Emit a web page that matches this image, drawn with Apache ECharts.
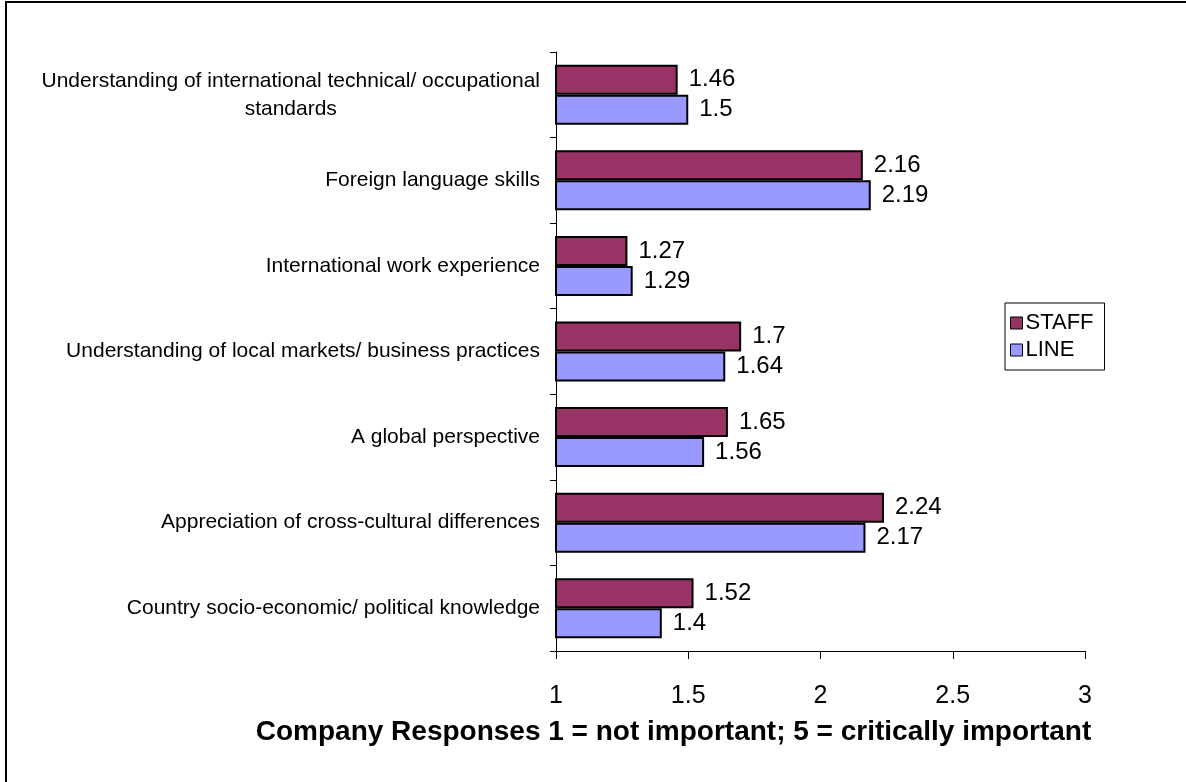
<!DOCTYPE html>
<html>
<head>
<meta charset="utf-8">
<script src="https://cdn.jsdelivr.net/npm/echarts@6/dist/echarts.min.js"></script>
<style>
  html, body { margin: 0; padding: 0; background: #fff; }
  #chart { width: 1186px; height: 782px; }
</style>
</head>
<body>
<div id="chart"></div>
<script>
// Skill categories, top to bottom
const categories = [
  'Understanding of international technical/ occupational\nstandards',
  'Foreign language skills',
  'International work experience',
  'Understanding of local markets/ business practices',
  'A global perspective',
  'Appreciation of cross-cultural differences',
  'Country socio-economic/ political knowledge'
];
const staffValues = [1.46, 2.16, 1.27, 1.7, 1.65, 2.24, 1.52];
const lineValues  = [1.5, 2.19, 1.29, 1.64, 1.56, 2.17, 1.4];
const xTicks = [1, 1.5, 2, 2.5, 3];
const xAxisTitle = 'Company Responses 1 = not important; 5 = critically important';

const FONT = 'Liberation Sans, Arial, sans-serif';

const chart = echarts.init(document.getElementById('chart'), null, { renderer: 'canvas' });

const valueLabel = {
  show: true,
  position: 'right',
  distance: 11,
  color: '#000',
  fontFamily: FONT,
  fontSize: 24
};

chart.setOption({
  animation: false,
  backgroundColor: '#fff',
  // outer frame of the chart area
  graphic: [{
    type: 'rect',
    shape: { x: 6, y: 2, width: 1300, height: 900 },
    style: { fill: 'none', stroke: '#000', lineWidth: 2 },
    silent: true
  }],
  legend: {
    orient: 'vertical',
    left: 1005,
    top: 303,
    padding: [9, 11, 9, 5],
    itemGap: 5,
    itemWidth: 12,
    itemHeight: 12,
    itemStyle: { borderColor: '#000', borderWidth: 1 },
    icon: 'rect',
    borderColor: '#000',
    borderWidth: 1,
    textStyle: { color: '#000', fontFamily: FONT, fontSize: 22, padding: [0, 0, 0, -2] },
    data: ['STAFF', 'LINE']
  },
  grid: { left: 556, right: 101, top: 52, bottom: 131, containLabel: false },
  xAxis: {
    type: 'value',
    min: xTicks[0],
    max: xTicks[xTicks.length - 1],
    interval: xTicks[1] - xTicks[0],
    axisLine: { show: true, lineStyle: { color: '#000', width: 1 } },
    axisTick: { show: true, length: 8, lineStyle: { color: '#000' } },
    splitLine: { show: false },
    axisLabel: { color: '#000', fontFamily: FONT, fontSize: 25, margin: 33 },
    name: xAxisTitle,
    nameLocation: 'middle',
    nameGap: 67,
    nameTextStyle: { color: '#000', fontFamily: FONT, fontSize: 28, fontWeight: 'bold', padding: [0, 294, 0, 0] }
  },
  yAxis: {
    type: 'category',
    inverse: true,
    data: categories,
    axisLine: { show: true, lineStyle: { color: '#000', width: 1 } },
    axisTick: { show: true, length: 6, lineStyle: { color: '#000' } },
    axisLabel: {
      color: '#000',
      fontFamily: FONT,
      fontSize: 21,
      margin: 16,
      lineHeight: 28,
      formatter: function (v) {
        return v.split('\n').map(function (s) { return '{c|' + s + '}'; }).join('\n');
      },
      rich: { c: { align: 'center', fontFamily: FONT, fontSize: 21, color: '#000', lineHeight: 28 } }
    }
  },
  series: [
    {
      name: 'STAFF',
      type: 'bar',
      data: staffValues,
      barWidth: 30,
      barGap: '0%',
      itemStyle: { color: '#993366', borderColor: '#000', borderWidth: 2 },
      label: valueLabel
    },
    {
      name: 'LINE',
      type: 'bar',
      data: lineValues,
      barWidth: 30,
      barGap: '0%',
      itemStyle: { color: '#9999FF', borderColor: '#000', borderWidth: 2 },
      label: valueLabel
    }
  ]
});
</script>
</body>
</html>
